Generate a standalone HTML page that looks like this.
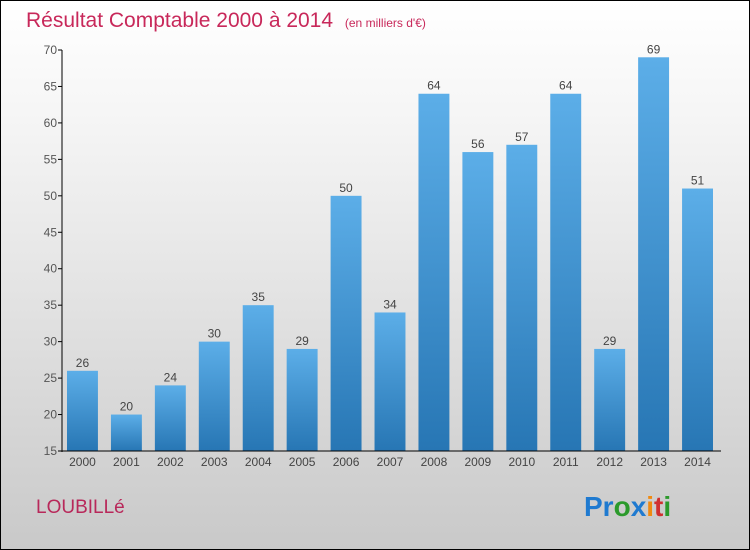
<!DOCTYPE html>
<html><head><meta charset="utf-8"><style>
body{margin:0}
#c{position:relative;width:750px;height:550px;box-sizing:border-box;border:1px solid #000;background:linear-gradient(#fff,#f6f6f6 20%,#c9c9c9);font-family:"Liberation Sans",sans-serif;overflow:hidden}
</style></head><body>
<div id="c">
<svg width="750" height="550" style="position:absolute;left:-1px;top:-1px" id="svg">
<defs><linearGradient id="g" x1="0" y1="0" x2="0" y2="1"><stop offset="0" stop-color="#5caee8"/><stop offset="1" stop-color="#2776b4"/></linearGradient></defs>
<text x="26" y="27" font-size="21" fill="#c8285a">Résultat Comptable 2000 à 2014 <tspan font-size="12" dx="6">(en milliers d'€)</tspan></text>
<text x="36" y="513" font-size="19" fill="#b8285a">LOUBILLé</text>
<text x="584" y="516" font-size="28" font-weight="bold"><tspan fill="#1f7ad0">Pr</tspan><tspan fill="#2c9a2c">o</tspan><tspan fill="#1f7ad0">x</tspan><tspan fill="#f08a10">i</tspan><tspan fill="#d03030">t</tspan><tspan fill="#2c9a2c">i</tspan></text>
<g id="plot"></g>
</svg>
</div>
<script>
const categories=["2000","2001","2002","2003","2004","2005","2006","2007","2008","2009","2010","2011","2012","2013","2014"];
const values=[26,20,24,30,35,29,50,34,64,56,57,64,29,69,51];
const yTicks=[15,20,25,30,35,40,45,50,55,60,65,70];
const ns="http://www.w3.org/2000/svg";
const g=document.getElementById('plot');
const x0=62,x1=721,yTop=50,yBot=451,ymin=15,ymax=70;
const band=(x1-x0)/categories.length;
const y=v=>yBot-(v-ymin)/(ymax-ymin)*(yBot-yTop);
function mk(t,a){const e=document.createElementNS(ns,t);for(const k in a)e.setAttribute(k,a[k]);g.appendChild(e);return e;}
yTicks.forEach(t=>{
 const l=mk('line',{x1:x0-4,x2:x0,y1:y(t),y2:y(t),stroke:'#000'});
 
 
 const tx=mk('text',{x:x0-5,y:y(t)+4,'font-size':12,fill:'#555','text-anchor':'end'});
 tx.textContent=t;
 
 
});
categories.forEach((c,i)=>{
 const bx=x0+i*band+5,bw=band-13;
 const r=mk('rect',{x:bx,y:y(values[i]),width:bw,height:yBot-y(values[i]),fill:'url(#g)'});
 
 
 const v=mk('text',{x:bx+bw/2,y:y(values[i])-4,'font-size':12,fill:'#444','text-anchor':'middle'});
 v.textContent=values[i];
 
 
 const xl=mk('text',{x:bx+bw/2,y:466,'font-size':12,fill:'#444','text-anchor':'middle'});
 xl.textContent=c;
 
 
});
const ya=mk('line',{x1:x0,x2:x0,y1:yTop,y2:yBot+1,stroke:'#000'});


const xa=mk('line',{x1:x0,x2:x1,y1:yBot,y2:yBot,stroke:'#000'});


</script>
</body></html>
